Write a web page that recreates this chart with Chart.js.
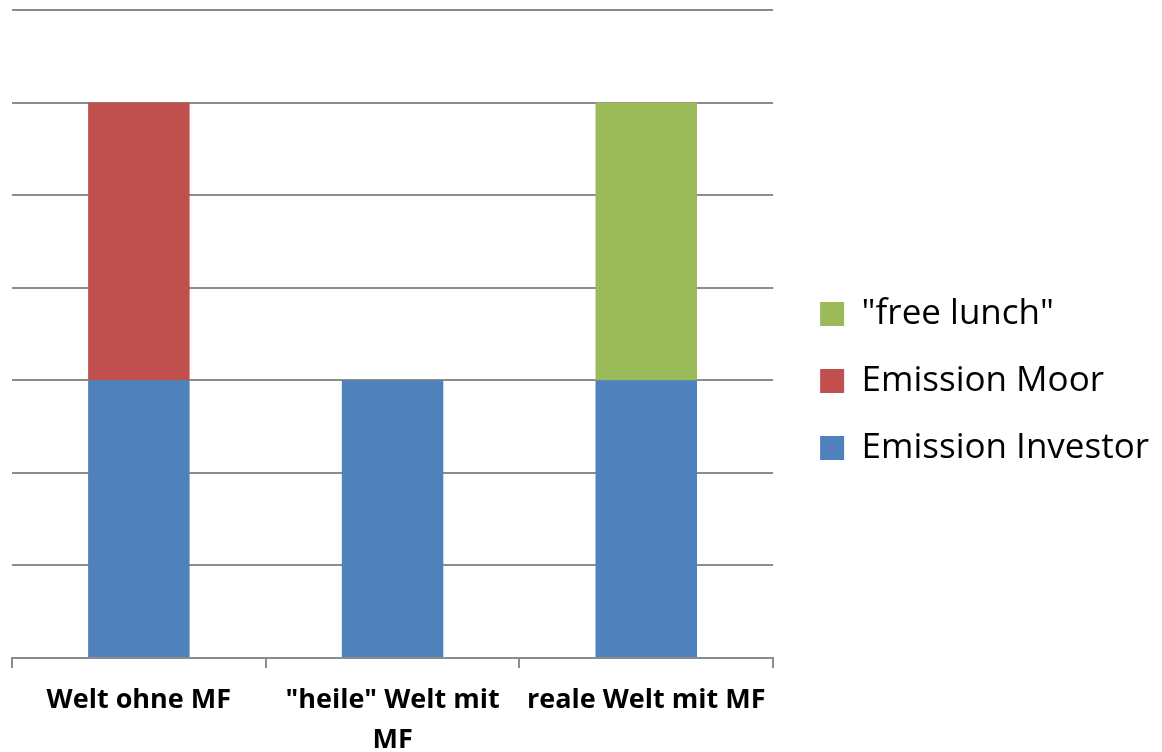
<!DOCTYPE html>
<html>
<head>
<meta charset="utf-8">
<script src="https://cdn.jsdelivr.net/npm/chart.js@4/dist/chart.umd.min.js"></script>
<style>
  html, body { margin: 0; padding: 0; background: #fff; }
  #wrap { width: 1162px; height: 752px; }
</style>
</head>
<body>
<div id="wrap"><canvas id="c" width="1162" height="752"></canvas></div>
<script>
const categories = ['Welt ohne MF', ['"heile" Welt mit', 'MF'], 'reale Welt mit MF'];
const emissionInvestor = [3, 3, 3];
const emissionMoor = [3, 0, 0];
const freeLunch = [0, 0, 3];

const FONT = "'Open Sans', sans-serif";
const GRID = '#8c8c8c';

function draw() {
  new Chart(document.getElementById('c'), {
    type: 'bar',
    data: {
      labels: categories,
      datasets: [
        { label: 'Emission Investor', data: emissionInvestor, backgroundColor: '#4F81BD' },
        { label: 'Emission Moor', data: emissionMoor, backgroundColor: '#C0504D' },
        { label: '"free lunch"', data: freeLunch, backgroundColor: '#9BBB59' }
      ]
    },
    options: {
      responsive: false,
      animation: false,
      layout: { padding: { top: 10, left: 12, right: 3, bottom: 0 } },
      datasets: { bar: { categoryPercentage: 1, barPercentage: 0.4 } },
      scales: {
        x: {
          stacked: true,
          grid: { display: true, drawOnChartArea: false, offset: true, tickLength: 10, color: GRID, lineWidth: 2 },
          border: { display: true, color: GRID, width: 2 },
          ticks: { color: '#000', font: { family: FONT, size: 27, weight: 'bold', lineHeight: 1.48 }, padding: 12, maxRotation: 0, autoSkip: false },
          afterFit(s) { s.height = 94; }
        },
        y: {
          stacked: true,
          min: 0, max: 7,
          ticks: { display: false, stepSize: 1 },
          grid: { color: GRID, lineWidth: 2, drawTicks: false },
          border: { display: false }
        },
        // empty spacer between plot area and legend
        gap: {
          type: 'linear',
          position: 'right',
          display: true,
          ticks: { display: false },
          grid: { display: false },
          border: { display: false },
          afterFit(s) { s.width = 15; }
        }
      },
      plugins: {
        tooltip: { enabled: false },
        legend: {
          position: 'right',
          reverse: true,
          maxWidth: 500,
          labels: {
            color: '#000',
            boxWidth: 24, boxHeight: 24,
            padding: 32,
            font: { family: FONT, size: 35 }
          }
        }
      }
    }
  });
}

Promise.all([
  document.fonts.load("35px 'Open Sans'"),
  document.fonts.load("bold 27px 'Open Sans'")
]).then(draw, draw);
</script>
</body>
</html>
